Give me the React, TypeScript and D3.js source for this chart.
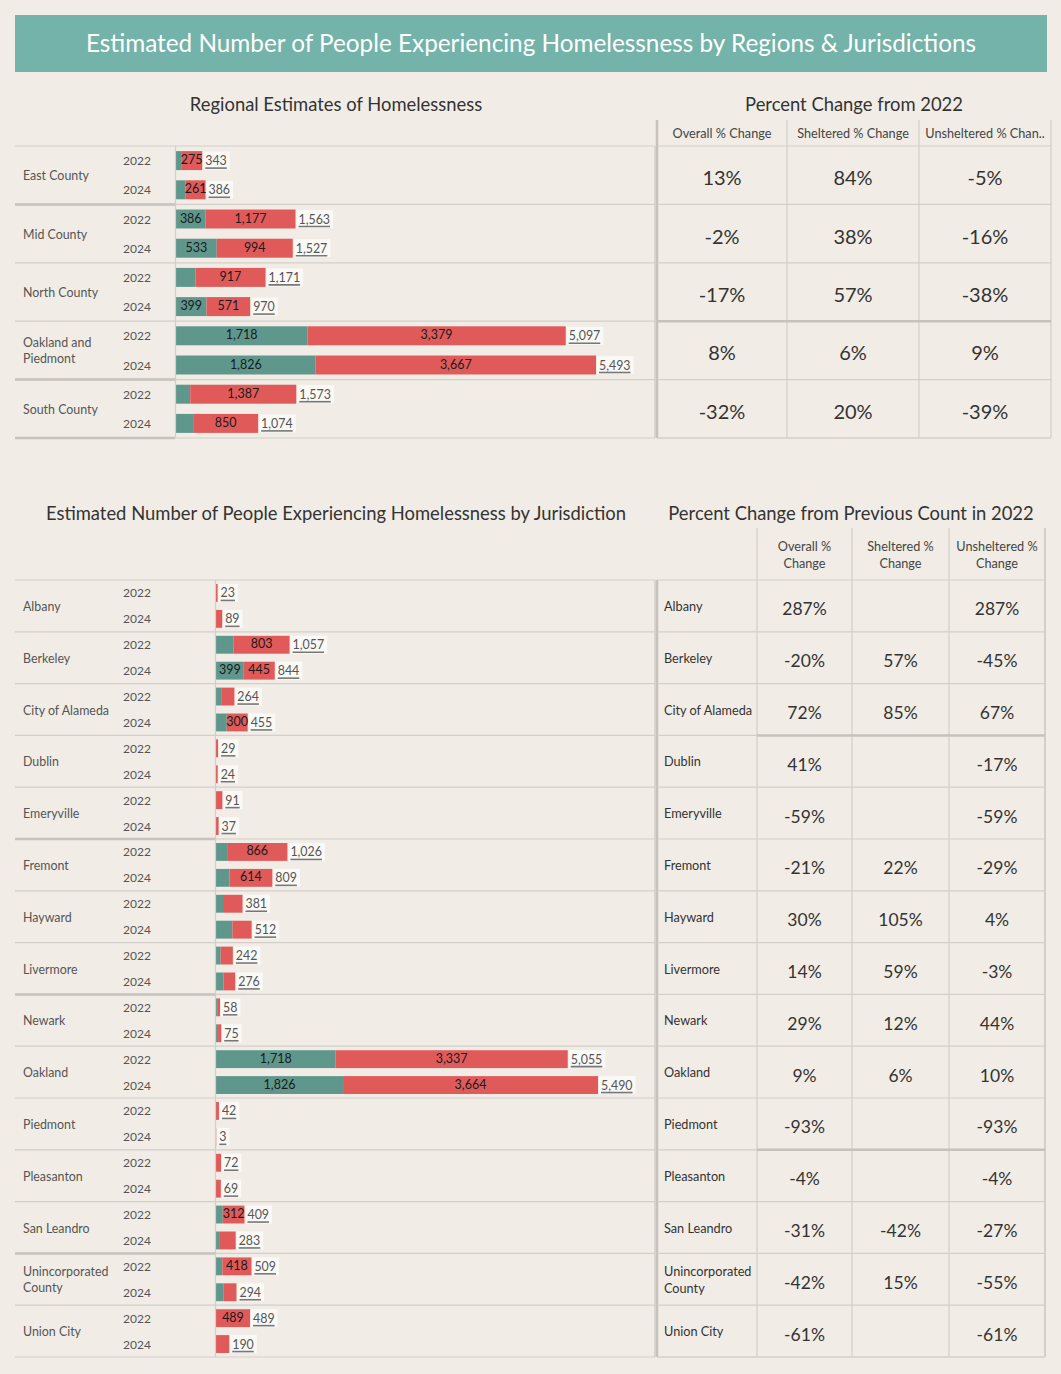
import React from "react";
import * as d3 from "d3";

// ---------- DATA ----------
const years = ["2022", "2024"];

const regions = ["East County", "Mid County", "North County", "Oakland and|Piedmont", "South County"];
const regionSheltered2022 = [68, 386, 254, 1718, 186];
const regionSheltered2024 = [125, 533, 399, 1826, 224];
const regionUnsheltered2022 = [275, 1177, 917, 3379, 1387];
const regionUnsheltered2024 = [261, 994, 571, 3667, 850];
const regionTotal2022 = [343, 1563, 1171, 5097, 1573];
const regionTotal2024 = [386, 1527, 970, 5493, 1074];
const regionHeaders = ["Overall % Change", "Sheltered % Change", "Unsheltered % Chan.."];
const regionOverallPct = ["13%", "-2%", "-17%", "8%", "-32%"];
const regionShelteredPct = ["84%", "38%", "57%", "6%", "20%"];
const regionUnshelteredPct = ["-5%", "-16%", "-38%", "9%", "-39%"];

const jurisdictions = [
  "Albany", "Berkeley", "City of Alameda", "Dublin", "Emeryville", "Fremont", "Hayward",
  "Livermore", "Newark", "Oakland", "Piedmont", "Pleasanton", "San Leandro",
  "Unincorporated|County", "Union City",
];
const jurSheltered2022 = [0, 254, 84, 0, 0, 160, 115, 67, 27, 1718, 0, 0, 97, 91, 0];
const jurSheltered2024 = [0, 399, 155, 0, 0, 195, 236, 106, 30, 1826, 0, 0, 56, 105, 0];
const jurUnsheltered2022 = [23, 803, 180, 29, 91, 866, 266, 175, 31, 3337, 42, 72, 312, 418, 489];
const jurUnsheltered2024 = [89, 445, 300, 24, 37, 614, 276, 170, 45, 3664, 3, 69, 227, 189, 190];
const jurTotal2022 = [23, 1057, 264, 29, 91, 1026, 381, 242, 58, 5055, 42, 72, 409, 509, 489];
const jurTotal2024 = [89, 844, 455, 24, 37, 809, 512, 276, 75, 5490, 3, 69, 283, 294, 190];
const jurHeaders = ["Overall %|Change", "Sheltered %|Change", "Unsheltered %|Change"];
const jurOverallPct = ["287%", "-20%", "72%", "41%", "-59%", "-21%", "30%", "14%", "29%", "9%", "-93%", "-4%", "-31%", "-42%", "-61%"];
const jurShelteredPct = ["", "57%", "85%", "", "", "22%", "105%", "59%", "12%", "6%", "", "", "-42%", "15%", ""];
const jurUnshelteredPct = ["287%", "-45%", "67%", "-17%", "-59%", "-29%", "4%", "-3%", "44%", "10%", "-93%", "-4%", "-27%", "-55%", "-61%"];

// ---------- STYLE ----------
const FONT = "Lato, 'Open Sans', sans-serif";
const BG = "#f1ede6";
const TEAL = "#5f978c";
const RED = "#e05a5a";
const HEADER = "#73b3a9";
const LINE = "#d2cec9";
const THICK = "#c6c2bd";
const TXT = "#555";

let canvasCtx: CanvasRenderingContext2D | null = null;
function textWidth(s: string, size: number) {
  if (!canvasCtx) {
    const c = document.createElement("canvas");
    canvasCtx = c.getContext("2d");
  }
  if (!canvasCtx) return s.length * size * 0.55;
  canvasCtx.font = `${size}px Lato`;
  return canvasCtx.measureText(s).width;
}
const fmt = d3.format(",");

function MultiLine({ x, y, text, size, fill, anchor = "start", lh = 16, weight = 400 }: any) {
  const lines = text.split("|");
  const off = ((lines.length - 1) * lh) / 2;
  return (
    <text x={x} y={y - off} fontSize={size} fill={fill} textAnchor={anchor} fontFamily={FONT} fontWeight={weight} dominantBaseline="central">
      {lines.map((l: string, i: number) => (
        <tspan key={i} x={x} dy={i === 0 ? 0 : lh}>{l}</tspan>
      ))}
    </text>
  );
}

function BarPanel(props: any) {
  const { groups, s22, s24, u22, u24, t22, t24, top, bottom, left, yearX, barX0, barX1, right, barRatio, thickLeft } = props;
  const maxT = d3.max([...t22, ...t24]) as number;
  const x = d3.scaleLinear().domain([0, maxT]).range([barX0, barX1]);
  const gy = d3.scaleBand().domain(groups.map((_: any, i: number) => String(i))).range([top, bottom]);
  const yy = d3.scaleBand().domain(years).range([0, gy.bandwidth()]);
  const barH = yy.bandwidth() * barRatio;
  const shelt = [s22, s24];
  const unsh = [u22, u24];
  const tot = [t22, t24];

  const elems: any[] = [];
  groups.forEach((g: string, i: number) => {
    const gTop = gy(String(i)) as number;
    const gBot = gTop + gy.bandwidth();
    elems.push(
      <line key={`hl${i}`} x1={left} x2={right} y1={gTop} y2={gTop} stroke={LINE} strokeWidth={1.2} />
    );
    if (thickLeft.includes(i)) {
      elems.push(<line key={`thl${i}`} x1={left} x2={barX0 - 1} y1={gTop} y2={gTop} stroke={THICK} strokeWidth={2.5} />);
    }
    if (i === groups.length - 1) {
      elems.push(<line key={`hlb`} x1={left} x2={right} y1={gBot} y2={gBot} stroke={LINE} strokeWidth={1.2} />);
      if (thickLeft.includes(groups.length)) {
        elems.push(<line key={`thlb`} x1={left} x2={barX0 - 1} y1={gBot} y2={gBot} stroke={THICK} strokeWidth={2.5} />);
      }
    }
    elems.push(<MultiLine key={`gl${i}`} x={left + 8} y={gTop + gy.bandwidth() / 2} text={g} size={12.4} fill={TXT} />);
    years.forEach((yr, k) => {
      const cy = gTop + (yy(yr) as number) + yy.bandwidth() / 2;
      elems.push(
        <text key={`yr${i}${k}`} x={yearX} y={cy} fontSize={12} fill={TXT} fontFamily={FONT} dominantBaseline="central">{yr}</text>
      );
      const s = shelt[k][i];
      const u = unsh[k][i];
      const t = tot[k][i];
      const xs0 = x(0);
      const xs1 = x(s);
      const xu1 = x(s + u);
      elems.push(<rect key={`bs${i}${k}`} x={xs0} y={cy - barH / 2} width={xs1 - xs0} height={barH} fill={TEAL} />);
      elems.push(<rect key={`bu${i}${k}`} x={xs1} y={cy - barH / 2} width={xu1 - xs1} height={barH} fill={RED} />);
      const segs = [[s, xs0, xs1], [u, xs1, xu1]];
      segs.forEach(([v, a, b], j) => {
        const lab = fmt(v as number);
        const w = (b as number) - (a as number);
        const tw = textWidth(lab, 12);
        if (v > 0 && w >= Math.max(19.5, tw - 2)) {
          elems.push(
            <text key={`il${i}${k}${j}`} x={((a as number) + (b as number)) / 2} y={cy - 1} fontSize={12.5} fill="#1a1a1a" fontFamily={FONT} textAnchor="middle" dominantBaseline="central">{lab}</text>
          );
        }
      });
      const tl = fmt(t);
      const tw = textWidth(tl, 12.4);
      const tx = xu1 + 3;
      elems.push(
        <g key={`tl${i}${k}`}>
          <rect x={tx - 2} y={cy - 9} width={tw + 5} height={18} fill="#faf9f6" />
          <text x={tx} y={cy} fontSize={12.4} fill={TXT} fontFamily={FONT} dominantBaseline="central">{tl}</text>
          <line x1={tx} x2={tx + tw} y1={cy + 7.5} y2={cy + 7.5} stroke="#777" strokeWidth={1.6} />
        </g>
      );
    });
  });
  elems.push(<line key="vl" x1={barX0 - 0.5} x2={barX0 - 0.5} y1={top} y2={bottom} stroke={LINE} strokeWidth={1.2} />);
  elems.push(<line key="vr" x1={right} x2={right} y1={top} y2={bottom} stroke={LINE} strokeWidth={1.5} />);
  return <g>{elems}</g>;
}

function PctTable(props: any) {
  const { rowLabels, headers, cols, top, bottom, headTop, colX, valueSize, headerSize, thickRows, labelX, valueDy } = props;
  const gy = d3.scaleBand().domain(cols[0].map((_: any, i: number) => String(i))).range([top, bottom]);
  const elems: any[] = [];
  const xL = colX[0];
  const xR = colX[colX.length - 1];
  const firstDataCol = rowLabels ? 1 : 0;
  headers.forEach((h: string, j: number) => {
    const a = colX[j + firstDataCol];
    const b = colX[j + firstDataCol + 1];
    elems.push(<MultiLine key={`h${j}`} x={(a + b) / 2} y={(headTop + top) / 2} text={h} size={headerSize} fill="#444" anchor="middle" lh={17} />);
  });
  colX.forEach((cx: number, j: number) => {
    const isLabelLeft = rowLabels && j === 0;
    elems.push(
      <line key={`v${j}`} x1={cx} x2={cx} y1={isLabelLeft ? top : headTop} y2={bottom} stroke={j === 0 ? THICK : LINE} strokeWidth={j === 0 ? 2.5 : 1.2} />
    );
  });
  if (rowLabels) {
    elems.push(<line key="vend" x1={xR} x2={xR} y1={headTop} y2={bottom} stroke={LINE} strokeWidth={1.8} />);
  }
  cols[0].forEach((_: any, i: number) => {
    const yT = gy(String(i)) as number;
    const cy = yT + gy.bandwidth() / 2;
    const thick = thickRows.includes(i);
    const hx0 = rowLabels && thick ? colX[1] : xL;
    elems.push(<line key={`hr${i}`} x1={xL} x2={xR} y1={yT} y2={yT} stroke={LINE} strokeWidth={1.2} />);
    if (thick) elems.push(<line key={`ht${i}`} x1={hx0} x2={xR} y1={yT} y2={yT} stroke={THICK} strokeWidth={2.5} />);
    if (rowLabels) {
      elems.push(<MultiLine key={`rl${i}`} x={labelX} y={cy} text={rowLabels[i]} size={12.7} fill="#333" lh={17} />);
    }
    cols.forEach((col: string[], j: number) => {
      const a = colX[j + firstDataCol];
      const b = colX[j + firstDataCol + 1];
      elems.push(
        <text key={`c${i}${j}`} x={(a + b) / 2} y={cy + valueDy} fontSize={valueSize} fill="#333" fontFamily={FONT} textAnchor="middle" dominantBaseline="central">{col[i]}</text>
      );
    });
  });
  elems.push(<line key="hb" x1={xL} x2={xR} y1={bottom} y2={bottom} stroke={LINE} strokeWidth={1.5} />);
  return <g>{elems}</g>;
}

export default function App() {
  return (
    <div style={{ position: "absolute", left: 0, top: 0 }}>
      <svg width={1061} height={1374} style={{ display: "block" }}>
        <rect x={0} y={0} width={1061} height={1374} fill={BG} />
        <rect x={15} y={15} width={1032} height={57} fill={HEADER} />
        <text x={531} y={42} fontSize={24.3} fill="#fff" fontFamily={FONT} textAnchor="middle" dominantBaseline="central">
          Estimated Number of People Experiencing Homelessness by Regions &amp; Jurisdictions
        </text>

        <text x={336} y={104} fontSize={18.4} fill="#333" fontFamily={FONT} textAnchor="middle" dominantBaseline="central">Regional Estimates of Homelessness</text>
        <text x={854} y={104} fontSize={18.4} fill="#333" fontFamily={FONT} textAnchor="middle" dominantBaseline="central">Percent Change from 2022</text>

        <BarPanel
          groups={regions}
          s22={regionSheltered2022} s24={regionSheltered2024}
          u22={regionUnsheltered2022} u24={regionUnsheltered2024}
          t22={regionTotal2022} t24={regionTotal2024}
          top={146} bottom={438} left={15} yearX={123} barX0={176} barX1={596} right={655}
          barRatio={0.65} thickLeft={[1, 4, 5]}
        />
        <PctTable
          rowLabels={null}
          headers={regionHeaders}
          cols={[regionOverallPct, regionShelteredPct, regionUnshelteredPct]}
          top={146} bottom={438} headTop={120}
          colX={[657, 787, 919, 1051]}
          valueSize={20} headerSize={12.7} thickRows={[3]} labelX={0} valueDy={2}
        />

        <text x={336} y={513} fontSize={18.4} fill="#333" fontFamily={FONT} textAnchor="middle" dominantBaseline="central">Estimated Number of People Experiencing Homelessness by Jurisdiction</text>
        <text x={851} y={513} fontSize={18.4} fill="#333" fontFamily={FONT} textAnchor="middle" dominantBaseline="central">Percent Change from Previous Count in 2022</text>

        <BarPanel
          groups={jurisdictions}
          s22={jurSheltered2022} s24={jurSheltered2024}
          u22={jurUnsheltered2022} u24={jurUnsheltered2024}
          t22={jurTotal2022} t24={jurTotal2024}
          top={580} bottom={1357} left={15} yearX={123} barX0={216} barX1={598} right={655}
          barRatio={0.69} thickLeft={[5, 8, 13]}
        />
        <PctTable
          rowLabels={jurisdictions}
          headers={jurHeaders}
          cols={[jurOverallPct, jurShelteredPct, jurUnshelteredPct]}
          top={580} bottom={1357} headTop={528}
          colX={[657, 757, 852, 949, 1045]}
          valueSize={17.5} headerSize={12.7} thickRows={[3, 11]} labelX={664} valueDy={3}
        />
      </svg>
    </div>
  );
}
